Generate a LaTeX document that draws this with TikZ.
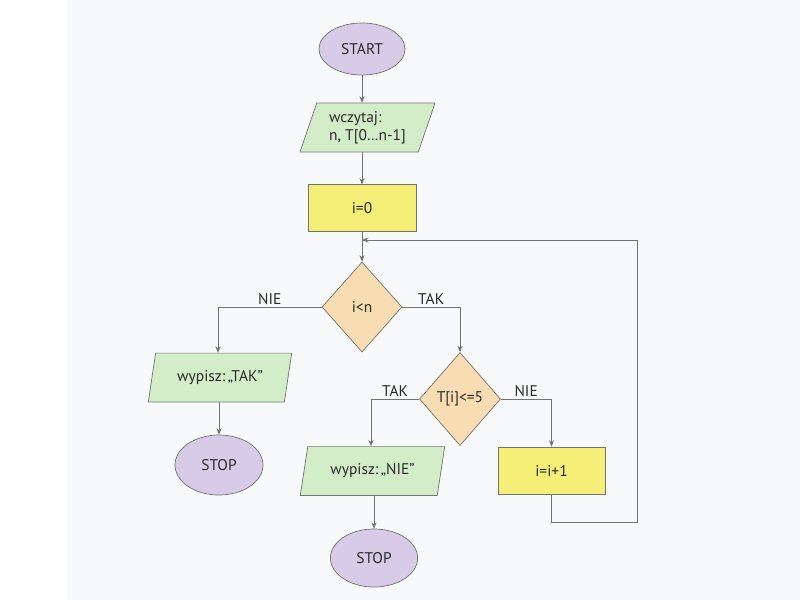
\documentclass[tikz,border=0pt]{standalone}
\usepackage{fontspec}
\setmainfont{PT Sans}
\usetikzlibrary{shapes.geometric,arrows.meta}

\definecolor{pagecol}{HTML}{F8F9FB}
\definecolor{ovalfill}{HTML}{D7CBE7}
\definecolor{iofill}{HTML}{D3EDC9}
\definecolor{procfill}{HTML}{F5EF78}
\definecolor{testfill}{HTML}{F7DDB1}
\definecolor{edgecol}{HTML}{737373}
\definecolor{txtcol}{HTML}{2A2A2A}

\tikzset{
  every node/.style={font=\fontsize{11}{13}\selectfont, text=txtcol},
  oval/.style={ellipse, draw=edgecol, line width=0.5pt, fill=ovalfill, inner sep=0pt,
    minimum width=2.15cm, minimum height=1.3cm},
  io/.style={trapezium, trapezium left angle=71, trapezium right angle=109,
    trapezium stretches=true, draw=edgecol, line width=0.5pt, fill=iofill,
    inner sep=0pt, minimum height=1.22cm},
  proc/.style={rectangle, draw=edgecol, line width=0.5pt, fill=procfill,
    minimum width=2.7cm, minimum height=1.16cm},
  test/.style={diamond, draw=edgecol, line width=0.5pt, fill=testfill, inner sep=0pt},
  flow/.style={draw=edgecol, line width=0.6pt, -{Stealth[length=4.5pt,width=3.6pt]}},
  lab/.style={above, inner sep=1.5pt}
}

\begin{document}
\begin{tikzpicture}[x=0.025cm, y=-0.025cm]
  % page
  \useasboundingbox (0,0) rectangle (800,600);
  \fill[white] (0,0) rectangle (800,600);
  \fill[pagecol] (67,0) rectangle (800,600);

  % blocks
  \node[oval] (start) at (362,49) {START};
  \node[io, minimum width=3.375cm] (read) at (367.5,127.5)
    {\begin{tabular}{@{}l@{}}wczytaj:\\ n, T[0…n-1]\end{tabular}};
  \node[proc] (init) at (362,208) {i=0};
  \coordinate (join) at (362,240);
  \node[test, minimum width=2cm, minimum height=2.25cm] (cond1) at (362,307) {i<n};
  \node[io, minimum width=3.6cm] (yes) at (220,377.5) {wypisz:\,„TAK”};
  \node[oval, minimum width=2.2cm, minimum height=1.5cm] (stop1) at (219,465) {STOP};
  \node[test, minimum width=2.025cm, minimum height=2.325cm] (cond2) at (460,399) {T[i]<=5};
  \node[io, minimum width=3.625cm] (no) at (372.5,471) {wypisz:\,„NIE”};
  \node[oval, minimum width=2.18cm, minimum height=1.45cm] (stop2) at (374,558) {STOP};
  \node[proc, minimum width=2.675cm, minimum height=1.175cm] (inc) at (551.5,470.5) {i=i+1};
  \coordinate (back) at (637,522);
  \coordinate (up) at (637,240);

  % connectors
  \draw[flow] (start) -- (read.north -| start);
  \draw[flow] (read.south -| init) -- (init);
  \draw[flow] (init) -- (cond1);
  \draw[flow] (cond1.west) -| node[lab, pos=0.25] (n1) {NIE} (yes.north -| 218,0);
  \draw[flow] (cond1.east) -| node[lab, pos=0.25] (t1) {TAK} (cond2.north);
  \draw[flow] (yes.south -| stop1) -- (stop1);
  \draw[flow] (cond2.west) -| node[lab, pos=0.25] (t2) {TAK} (no.north -| 371,0);
  \draw[flow] (cond2.east) -| node[lab, pos=0.25] (n2) {NIE} (inc.north);
  \draw[flow] (no.south -| stop2) -- (stop2);
  \draw[flow] (inc.south) |- (back) -- (up) -- (join);
\end{tikzpicture}
\end{document}
